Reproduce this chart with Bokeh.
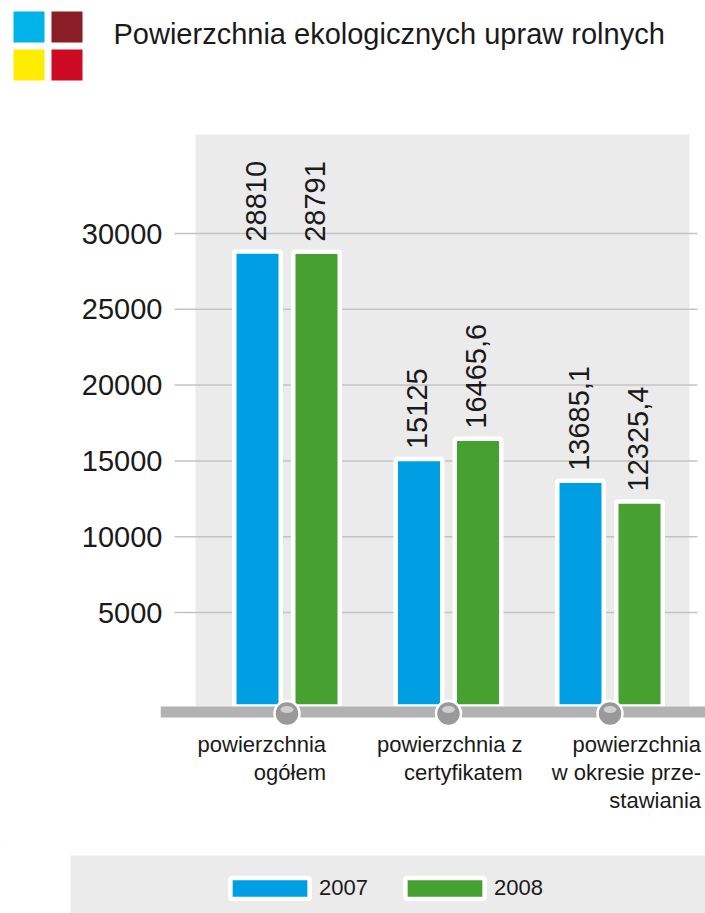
import math
from bokeh.plotting import figure
from bokeh.models import ColumnDataSource, Range1d, FixedTicker, Legend, LegendItem, PrintfTickFormatter
from bokeh.layouts import column
from bokeh.core.properties import value
from bokeh.embed import file_html
from bokeh.resources import INLINE

# ---------------- data ----------------
TITLE = "Powierzchnia ekologicznych upraw rolnych"
CATEGORIES = ["powierzchnia\nogółem", "powierzchnia z\ncertyfikatem", "powierzchnia\nw okresie prze-\nstawiania"]
SERIES = ["2007", "2008"]
VALUES_2007 = [28810, 15125, 13685.1]
VALUES_2008 = [28791, 16465.6, 12325.4]
Y_TICKS = [5000, 10000, 15000, 20000, 25000, 30000]
SERIES_COLORS = ["#009fe3", "#47a130"]
SQUARE_COLORS = ["#00b4e9", "#8b1d27", "#ffec00", "#cc0a22"]

# ---------------- layout constants (page pixels) ----------------
FONT = "Liberation Sans"
TEXT_COLOR = "#1a1a1a"
PANEL_COLOR = "#ebebeb"
W = 705
HEADER_H = 100
MAIN_H = 740
LEGEND_H = 73
PAGE_X0 = 0
PAGE_Y0 = 0
MAIN_TOP = PAGE_Y0 + HEADER_H
MAIN_BOTTOM = MAIN_TOP + MAIN_H
FRAME_LEFT = 160
FRAME_RIGHT = PAGE_X0 + W
GROUP0_PX = 286.5
GROUP_STEP_PX = 161.5
TICK_TOP_PX = 233
TICK_TOP_VAL = 30000
PX_PER_UNIT = 379 / 25000


def xd(px):
    return (px - GROUP0_PX) / GROUP_STEP_PX


def yd(py):
    return TICK_TOP_VAL + (TICK_TOP_PX - py) / PX_PER_UNIT


def fmt(v):
    if float(v).is_integer():
        return str(int(v))
    return f"{v:.1f}".replace(".", ",")


def base_fig(height, x_range, y_range, **kw):
    f = figure(width=W, height=height, x_range=x_range, y_range=y_range,
               output_backend="svg", toolbar_location=None,
               x_axis_location=None, min_border=0, frame_align=False,
               outline_line_color=None, background_fill_color="white",
               border_fill_color="white", **kw)
    f.grid.visible = False
    return f


# ---------------- header ----------------
hdr = base_fig(HEADER_H, Range1d(PAGE_X0, PAGE_X0 + W), Range1d(PAGE_Y0 + HEADER_H, PAGE_Y0),
               y_axis_location=None)
hdr.quad(left=[13, 51, 13, 51], right=[44, 82, 44, 82], top=[11, 11, 49, 49],
         bottom=[42, 42, 80, 80], fill_color=SQUARE_COLORS, line_color=None)
hdr.text(x=[113], y=[33], text=[TITLE], text_font=value(FONT), text_font_size="29px",
         text_color=TEXT_COLOR, text_align="left", text_baseline="alphabetic")

# ---------------- main chart ----------------
BASE = yd(706)
p = base_fig(MAIN_H, Range1d(xd(FRAME_LEFT), xd(FRAME_RIGHT)),
             Range1d(yd(MAIN_BOTTOM), yd(MAIN_TOP)),
             min_border_left=FRAME_LEFT - PAGE_X0)

# plot panel and grid lines
p.quad(left=xd(195), right=xd(689), top=yd(134), bottom=BASE, fill_color=PANEL_COLOR, line_color=None)
p.segment(x0=[xd(174)] * len(Y_TICKS), x1=[xd(697)] * len(Y_TICKS), y0=Y_TICKS, y1=Y_TICKS,
          line_color="#c3c3c3", line_width=1.5)

BAR_OFFSET = 29.5 / GROUP_STEP_PX
BAR_WIDTH = 46.5 / GROUP_STEP_PX
groups = list(range(len(CATEGORIES)))
for vals, color, off in zip([VALUES_2007, VALUES_2008], SERIES_COLORS, [-BAR_OFFSET, BAR_OFFSET]):
    src = ColumnDataSource(dict(x=[g + off for g in groups], top=vals, label=[fmt(v) for v in vals]))
    p.vbar(x="x", top="top", bottom=BASE, width=BAR_WIDTH, source=src,
           fill_color=color, line_color="white", line_width=4.5)
    p.text(x="x", y="top", text="label", source=src, angle=math.pi / 2,
           text_align="left", text_baseline="middle", x_offset=-2, y_offset=-10,
           text_font=value(FONT), text_font_size="29px", text_color=TEXT_COLOR)

# axis base bar with knobs
p.quad(left=xd(FRAME_LEFT), right=xd(705), top=BASE, bottom=yd(717), fill_color="#b2b2b2", line_color=None)
p.scatter(x=groups, y=[yd(713)] * len(groups), size=25, marker="circle",
          fill_color="#999999", line_color="white", line_width=2.5)
p.ellipse(x=groups, y=[yd(709)] * len(groups), width=13, height=7,
          width_units="screen", height_units="screen", fill_color="#cfcfcf", line_color=None)

# category labels
cat_src = ColumnDataSource(dict(x=groups, text=CATEGORIES, dx=[39, 74, 91]))
p.text(x="x", y=yd(731), text="text", x_offset="dx", source=cat_src,
       text_align="right", text_baseline="top", text_line_height=1.12,
       text_font=value(FONT), text_font_size="22px", text_color=TEXT_COLOR)

# y axis
ax = p.yaxis[0]
ax.ticker = FixedTicker(ticks=Y_TICKS)
ax.formatter = PrintfTickFormatter(format="%d")
ax.axis_line_color = None
ax.major_tick_line_color = None
ax.minor_tick_line_color = None
ax.major_tick_in = 0
ax.major_tick_out = 0
ax.major_label_standoff = -2
ax.major_label_text_font = FONT
ax.major_label_text_font_size = "29px"
ax.major_label_text_color = TEXT_COLOR

# ---------------- legend ----------------
lg = base_fig(LEGEND_H, Range1d(PAGE_X0, PAGE_X0 + W), Range1d(MAIN_BOTTOM + LEGEND_H, MAIN_BOTTOM),
              y_axis_location=None)
lg.quad(left=70, right=PAGE_X0 + W, top=855, bottom=MAIN_BOTTOM + LEGEND_H,
        fill_color=PANEL_COLOR, line_color=None)
items = []
for name, color in zip(SERIES, SERIES_COLORS):
    r = lg.vbar(x=[-1000], top=[0], bottom=[1], width=1, fill_color=color,
                line_color="white", line_width=4.5)
    items.append(LegendItem(label=name, renderers=[r]))
legend = Legend(items=items, orientation="horizontal", location=(220, 12),
                glyph_width=99, glyph_height=26, label_standoff=0, spacing=27,
                padding=0, margin=0, background_fill_alpha=0, border_line_alpha=0,
                label_text_font=FONT, label_text_font_size="22px", label_text_color=TEXT_COLOR)
lg.add_layout(legend)

layout = column(hdr, p, lg, spacing=0)
open("out.html", "w").write(file_html(layout, INLINE))
